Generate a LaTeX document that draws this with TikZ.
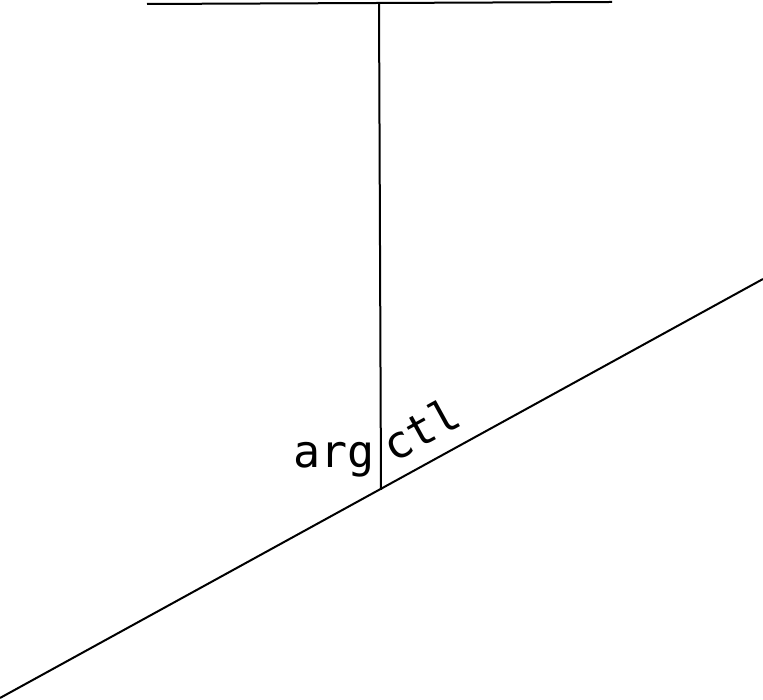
\documentclass[tikz,border=0pt]{standalone}
\usepackage{fontspec}
\newfontfamily\labelfont{DejaVu Sans Mono}
\tikzset{
  edge/.style={line width=2pt},
  lbl/.style={font=\labelfont\fontsize{45}{45}\selectfont, inner sep=0pt}
}
\begin{document}
\begin{tikzpicture}[x=1pt, y=1pt]
    \useasboundingbox (0,0) rectangle (763,700);

    % 顶部横线
    \coordinate (topL) at (147,696);
    \coordinate (topR) at (612,698);
    \draw[edge] (topL) -- (topR);

    % 竖线
    \coordinate (vtop) at (379,697);
    \coordinate (vbot) at (381,210);
    \draw[edge] (vtop) -- (vbot);

    % 斜线
    \coordinate (dL) at (0,2);
    \coordinate (dR) at (763,421);
    \draw[edge] (dL) -- (dR);

    % 标签
    \node[lbl, anchor=base east] (arg) at (375,232) {arg};
    \node[lbl, anchor=base west, rotate=28.8] (ctl) at (393,236) {ctl};
\end{tikzpicture}
\end{document}
